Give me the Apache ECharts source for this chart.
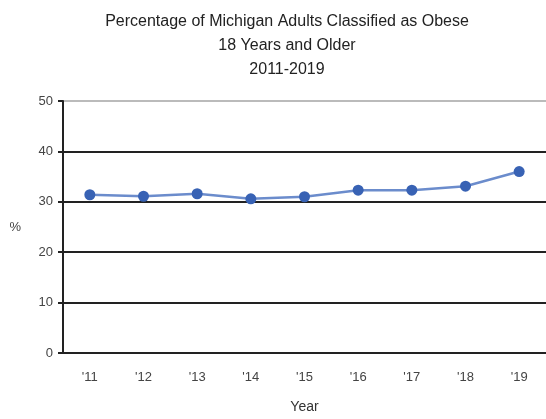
<!DOCTYPE html>
<html>
<head>
<meta charset="utf-8">
<script src="https://cdn.jsdelivr.net/npm/echarts@6/dist/echarts.min.js"></script>
<style>
  html, body { margin: 0; padding: 0; background: #fff; }
  #chart { width: 546px; height: 419px; }
</style>
</head>
<body>
<div id="chart"></div>
<script>
// data
const years = ["'11", "'12", "'13", "'14", "'15", "'16", "'17", "'18", "'19"]
const obese = [31.4, 31.1, 31.6, 30.6, 31.0, 32.3, 32.3, 33.1, 36.0]
const yTicks = [0, 10, 20, 30, 40, 50]

const font = "'Liberation Sans Narrow', 'Liberation Sans', Arial, sans-serif"

const myChart = echarts.init(document.getElementById('chart'))
const option = {
  animation: false,
  title: {
    text: 'Percentage of Michigan Adults Classified as Obese\n18 Years and Older\n2011-2019',
    left: 282,
    textAlign: 'center',
    top: 5,
    textStyle: {
      fontFamily: font,
      fontSize: 16,
      fontWeight: 'normal',
      color: '#222',
      lineHeight: 24,
    },
  },
  grid: {
    left: 63,
    right: -1,
    top: 101,
    bottom: 65,
  },
  xAxis: {
    type: 'category',
    data: years,
    boundaryGap: true,
    name: 'Year',
    nameLocation: 'middle',
    nameGap: 47,
    nameTextStyle: { fontFamily: font, fontSize: 14, color: '#333' },
    axisLine: { lineStyle: { color: '#222', width: 2 } },
    axisTick: { alignWithLabel: false, length: 5, lineStyle: { color: '#222', width: 2 } },
    axisLabel: { fontFamily: font, fontSize: 13, color: '#444', margin: 18 },
  },
  yAxis: {
    type: 'value',
    min: yTicks[0],
    max: yTicks[yTicks.length - 1],
    interval: 10,
    name: '%',
    nameLocation: 'middle',
    nameRotate: 0,
    nameGap: 42,
    nameTextStyle: { fontFamily: font, fontSize: 13, color: '#444', padding: [10, 0, 0, 0] },
    axisLine: { show: true, lineStyle: { color: '#222', width: 2 } },
    axisTick: { show: true, length: 5, lineStyle: { color: '#222', width: 2 } },
    axisLabel: { fontFamily: font, fontSize: 13, color: '#444', margin: 10 },
    splitLine: {
      lineStyle: {
        color: ['#222', '#222', '#222', '#222', '#222', '#bbb'],
        width: 2,
      },
    },
  },
  series: [
    {
      name: 'Obese',
      type: 'line',
      data: obese,
      symbol: 'circle',
      symbolSize: 11,
      lineStyle: { color: '#6b8ccc', width: 2.5 },
      itemStyle: { color: '#3862b4' },
    },
  ],
}
myChart.setOption(option)
</script>
</body>
</html>
